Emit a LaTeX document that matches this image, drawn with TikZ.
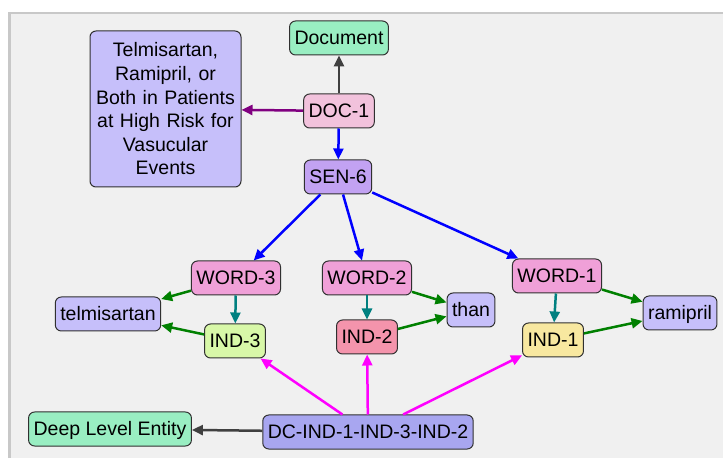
\documentclass[tikz,border=0pt]{standalone}
\usepackage{fontspec}
\setmainfont{Liberation Sans}
\usepackage{xcolor}
\usepackage{tikz}
\usetikzlibrary{arrows.meta}
\definecolor{panel}{HTML}{F0F0F0}
\definecolor{panelrim}{HTML}{C8C8C8}
\definecolor{rim}{HTML}{303030}
\definecolor{mint}{HTML}{99EEC2}
\definecolor{lilac}{HTML}{C6BFFA}
\definecolor{blush}{HTML}{F2C2DC}
\definecolor{violet}{HTML}{C2A2F2}
\definecolor{orchid}{HTML}{F0A0D8}
\definecolor{lime}{HTML}{D8F8A8}
\definecolor{rose}{HTML}{F494AC}
\definecolor{butter}{HTML}{F8E8A0}
\definecolor{periwinkle}{HTML}{A8A6F0}
\definecolor{slate}{HTML}{404040}
\definecolor{plum}{HTML}{800080}
\definecolor{wordblue}{HTML}{0000FF}
\definecolor{leaf}{HTML}{008000}
\definecolor{sea}{HTML}{008080}
\definecolor{fuchsia}{HTML}{FF00FF}

\begin{document}
\begin{tikzpicture}[x=1pt,y=1pt,
  box/.style={draw=rim,line width=1pt,rounded corners=6pt,inner xsep=5pt,
    font=\fontsize{19.5}{23.6}\selectfont},
  tag/.style={box,inner ysep=0pt,minimum height=34pt,text height=15pt,text depth=2pt},
  link/.style={line width=2.5pt,-{Triangle[length=11pt,width=10pt]}}]
  \useasboundingbox (0,0) rectangle (723,458);
  % grey panel behind the graph
  \fill[panel] (8,0) rectangle (723,446);
  \draw[panelrim,line width=2.5pt] (9.25,0) -- (9.25,444.75) -- (723,444.75);

  \node[tag,fill=mint] (document) at (339,420) {Document};
  \node[tag,fill=blush] (doc1) at (339,347) {DOC-1};
  \node[box,fill=lilac,text width=140pt,align=center,inner xsep=5.5pt,
    minimum height=156pt] (title) at (165.5,349)
    {Telmisartan,\\Ramipril, or\\Both in Patients\\at High Risk for\\Vasucular\\Events};
  \node[tag,fill=violet] (sen6) at (338,281) {SEN-6};
  \node[tag,fill=orchid] (word3) at (236,180) {WORD-3};
  \node[tag,fill=orchid] (word2) at (367,180) {WORD-2};
  \node[tag,fill=orchid] (word1) at (557,182) {WORD-1};
  \node[tag,fill=lilac] (telmi) at (108,144) {telmisartan};
  \node[tag,fill=lilac] (than) at (471,148) {than};
  \node[tag,fill=lilac] (rami) at (680,145) {ramipril};
  \node[tag,fill=lime] (ind3) at (235,117) {IND-3};
  \node[tag,fill=rose] (ind2) at (367,121) {IND-2};
  \node[tag,fill=butter] (ind1) at (553,118) {IND-1};
  \node[tag,fill=mint] (deep) at (110,29) {Deep Level Entity};
  \node[tag,fill=periwinkle] (dcind) at (368,26) {DC-IND-1-IND-3-IND-2};

  \draw[link,slate] (doc1) -- (document);
  \draw[link,plum] (doc1) -- (title);
  \draw[link,wordblue] (doc1) -- (sen6);
  \draw[link,wordblue] (sen6) -- (word3);
  \draw[link,wordblue] (sen6) -- (word2);
  \draw[link,wordblue] (sen6) -- (word1);
  \draw[link,leaf] (word3) -- (telmi);
  \draw[link,leaf] (ind3) -- (telmi);
  \draw[link,leaf] (word2) -- (than);
  \draw[link,leaf] (ind2) -- (than);
  \draw[link,leaf] (word1) -- (rami);
  \draw[link,leaf] (ind1) -- (rami);
  \draw[link,sea] (word3) -- (ind3);
  \draw[link,sea] (word2) -- (ind2);
  \draw[link,sea] (word1) -- (ind1);
  \draw[link,fuchsia] (dcind) -- (ind3);
  \draw[link,fuchsia] (dcind) -- (ind2);
  \draw[link,fuchsia] (dcind) -- (ind1);
  \draw[link,slate] (dcind) -- (deep);
\end{tikzpicture}
\end{document}
